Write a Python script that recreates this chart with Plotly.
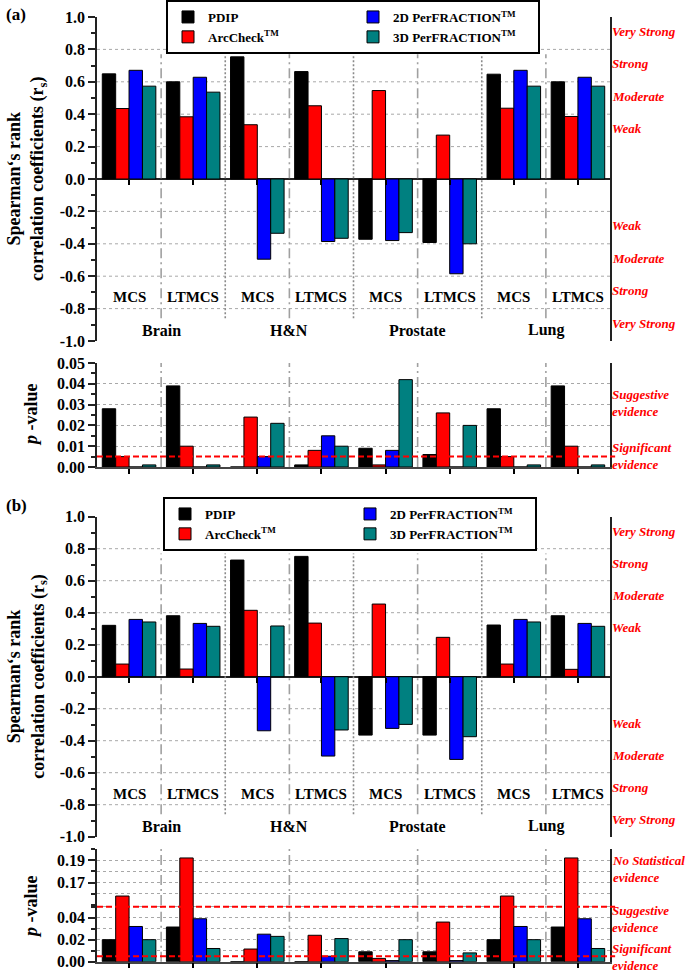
import plotly.graph_objects as go

SERIF = "Liberation Serif"
W, H = 685, 972

sites = ["Brain", "H&N", "Prostate", "Lung"]
plans = ["MCS", "LTMCS"]
group_labels = [p for s in sites for p in plans]
pos = list(range(len(group_labels)))

systems = ["PDIP", "ArcCheck<sup>TM</sup>", "2D PerFRACTION<sup>TM</sup>", "3D PerFRACTION<sup>TM</sup>"]
colors = ["#000000", "#ff0000", "#0000ff", "#008080"]
legend_rank = [1, 3, 2, 4]

# (a) Spearman's rank correlation, groups: Brain MCS, Brain LTMCS, H&N MCS, ...
rs_a_pdip = [0.649, 0.600, 0.754, 0.663, -0.372, -0.392, 0.647, 0.600]
rs_a_arc = [0.435, 0.384, 0.335, 0.452, 0.546, 0.271, 0.437, 0.386]
rs_a_2d = [0.671, 0.628, -0.495, -0.386, -0.380, -0.585, 0.671, 0.628]
rs_a_3d = [0.573, 0.536, -0.335, -0.366, -0.331, -0.400, 0.573, 0.573]

# (a) p-values
p_a_pdip = [0.028, 0.039, 0.0, 0.001, 0.009, 0.006, 0.028, 0.039]
p_a_arc = [0.005, 0.010, 0.024, 0.008, 0.001, 0.026, 0.005, 0.010]
p_a_2d = [0.0, 0.0, 0.005, 0.015, 0.008, 0.0, 0.0, 0.0]
p_a_3d = [0.001, 0.001, 0.021, 0.010, 0.042, 0.020, 0.001, 0.001]

# (b) Spearman's rank correlation
rs_b_pdip = [0.321, 0.381, 0.729, 0.752, -0.365, -0.365, 0.323, 0.381]
rs_b_arc = [0.079, 0.048, 0.415, 0.335, 0.454, 0.246, 0.079, 0.046]
rs_b_2d = [0.358, 0.333, -0.338, -0.496, -0.323, -0.517, 0.358, 0.333]
rs_b_3d = [0.342, 0.315, 0.317, -0.333, -0.298, -0.375, 0.342, 0.315]

# (b) p-values
p_b_pdip = [0.020, 0.0315, 0.0, 0.0, 0.009, 0.009, 0.020, 0.0315]
p_b_arc = [0.158, 0.192, 0.0115, 0.024, 0.003, 0.036, 0.158, 0.192]
p_b_2d = [0.032, 0.039, 0.025, 0.005, 0.001, 0.001, 0.032, 0.039]
p_b_3d = [0.020, 0.012, 0.023, 0.021, 0.020, 0.008, 0.020, 0.012]

strength = ["Weak", "Moderate", "Strong", "Very Strong"]
strength_at = [0.3, 0.5, 0.7, 0.9]

corr_ticks = [-1.0, -0.8, -0.6, -0.4, -0.2, 0.0, 0.2, 0.4, 0.6, 0.8, 1.0]
corr_grid = [-0.8, -0.6, -0.4, -0.2, 0.2, 0.4, 0.6, 0.8]
p_a_ticks = [0.0, 0.01, 0.02, 0.03, 0.04, 0.05]
p_b_low_ticks = [0.0, 0.02, 0.04]
p_b_high_ticks = [0.17, 0.19]
sig_level = 0.005
sugg_level = 0.05


def py(px):
    return 1 - px / H


dom_a = [py(341), py(17)]
dom_ap = [py(467), py(363)]
dom_b = [py(836.7), py(516.7)]
dom_bhi = [py(905), py(849)]
dom_blo = [py(961.7), py(905)]

fig = go.Figure()


def add_bars(series, xa, ya, legend=None):
    for name, vals, col, rank in zip(systems, series, colors, legend_rank):
        fig.add_trace(go.Bar(
            x=pos, y=vals, name=name, xaxis=xa, yaxis=ya,
            marker=dict(color=col, line=dict(color="black", width=1)),
            showlegend=legend is not None, legend=legend or "legend",
            legendrank=rank,
        ))


add_bars([rs_a_pdip, rs_a_arc, rs_a_2d, rs_a_3d], "x", "y", "legend")
add_bars([p_a_pdip, p_a_arc, p_a_2d, p_a_3d], "x2", "y2")
add_bars([rs_b_pdip, rs_b_arc, rs_b_2d, rs_b_3d], "x3", "y3", "legend2")
add_bars([p_b_pdip, p_b_arc, p_b_2d, p_b_3d], "x4", "y4")
add_bars([p_b_pdip, p_b_arc, p_b_2d, p_b_3d], "x5", "y5")

tickfont = dict(family=SERIF, size=16, color="black", weight="bold")
grid = dict(showgrid=True, gridcolor="#a8a8a8", griddash="dot", gridwidth=1)


def xax(**kw):
    d = dict(range=[-0.5, len(pos) - 0.5], showgrid=False, zeroline=False,
             showticklabels=False, tickvals=pos, ticks="outside", ticklen=5,
             tickcolor="black", tickwidth=1.5, fixedrange=True, automargin=False)
    d.update(kw)
    return d


def yax(**kw):
    d = dict(showline=True, mirror=True, linecolor="#222", linewidth=1.5,
             ticks="outside", ticklen=7, tickwidth=1.5, tickcolor="#222",
             tickfont=tickfont, zeroline=False, automargin=False, **grid)
    d.update(kw)
    return d


corr_y = dict(range=[-1, 1], tickvals=corr_ticks, showgrid=False,
              ticktext=[f"{v:.1f}" for v in corr_ticks],
              minor=dict(dtick=0.1, ticks="outside", ticklen=4, tickcolor="#222", showgrid=False),
              zeroline=True, zerolinecolor="#222", zerolinewidth=1.5)

fig.update_layout(
    template="none",
    xaxis=xax(anchor="free", position=sum(dom_a) / 2),
    yaxis=yax(domain=dom_a, anchor="x", **corr_y),
    xaxis2=xax(anchor="y2", showline=True, linecolor="#444", linewidth=1.5),
    yaxis2=yax(domain=dom_ap, anchor="x2", range=[0, 0.05], tickvals=p_a_ticks,
               ticktext=[f"{v:.2f}" for v in p_a_ticks],
               minor=dict(dtick=0.005, ticks="outside", ticklen=4, tickcolor="#222", showgrid=False)),
    xaxis3=xax(anchor="free", position=sum(dom_b) / 2),
    yaxis3=yax(domain=dom_b, anchor="x3", **corr_y),
    xaxis4=xax(anchor="y4", showline=True, linecolor="#444", linewidth=1.5),
    yaxis4=yax(domain=dom_blo, anchor="x4", range=[0, 0.0515], tickvals=p_b_low_ticks,
               ticktext=[f"{v:.2f}" for v in p_b_low_ticks],
               minor=dict(dtick=0.01, ticks="outside", ticklen=4, tickcolor="#222",
                          showgrid=True, gridcolor="#a8a8a8", griddash="dot")),
    xaxis5=xax(anchor="y5", ticks=""),
    yaxis5=yax(domain=dom_bhi, anchor="x5", range=[0.15, 0.2], tickvals=p_b_high_ticks,
               ticktext=[f"{v:.2f}" for v in p_b_high_ticks],
               minor=dict(dtick=0.01, ticks="outside", ticklen=4, tickcolor="#222",
                          showgrid=True, gridcolor="#a8a8a8", griddash="dot")),
    barmode="group", bargap=0.165, bargroupgap=0,
    width=W, height=H,
    margin=dict(l=97, r=75, t=0, b=0, pad=0),
    paper_bgcolor="white", plot_bgcolor="white",
    font=dict(family=SERIF, color="black"),
)

leg = dict(orientation="h", xanchor="left", yanchor="top", entrywidth=140,
           bordercolor="black", borderwidth=2, bgcolor="white", itemwidth=30,
           font=dict(family=SERIF, size=13, color="black", weight="bold"))
fig.update_layout(legend=dict(x=(166 - 97) / 513, y=py(0), **leg),
                  legend2=dict(x=(163 - 97) / 513, y=py(497), **leg))

# dotted horizontal grid in the correlation panels
for yr in ("y", "y3"):
    for g in corr_grid:
        fig.add_shape(type="line", xref=yr.replace("y", "x") + " domain", yref=yr, x0=0, x1=1, y0=g, y1=g,
                      line=dict(color="#a8a8a8", width=1, dash="dot"), layer="below")

# separators between plans (dash-dot) and between sites (dotted)
dashdot = dict(color="#a0a0a0", width=1.6, dash="10px,4px,2px,4px")
dotted = dict(color="#8a8a8a", width=1.6, dash="2px,2px")
for k in range(len(pos) - 1):
    xb = k + 0.5
    style = dashdot if k % 2 == 0 else dotted
    for xr, yr in [("x", "y"), ("x3", "y3")]:
        fig.add_shape(type="line", xref=xr, yref=yr, x0=xb, x1=xb, y0=-0.86, y1=0.77, line=style, layer="above")
    if k % 2 == 0:
        for xr, yr in [("x2", "y2 domain"), ("x4", "y4 domain"), ("x5", "y5 domain")]:
            fig.add_shape(type="line", xref=xr, yref=yr, x0=xb, x1=xb, y0=0, y1=1, line=dashdot, layer="above")

red_dash = dict(color="#ff0000", width=2, dash="6px,3px")
fig.add_shape(type="line", xref="x2 domain", yref="y2", x0=0, x1=1.01, y0=sig_level, y1=sig_level, line=red_dash)
fig.add_shape(type="line", xref="x4 domain", yref="y4", x0=0, x1=1.01, y0=sig_level, y1=sig_level, line=red_dash)
fig.add_shape(type="line", xref="x4 domain", yref="y4", x0=0, x1=1.01, y0=sugg_level, y1=sugg_level, line=red_dash)

ann_font = dict(family=SERIF, size=15, color="black", weight="bold")
red_font = dict(family=SERIF, size=13, color="#ff0000", weight="bold", style="italic")
anns = []
for xr, yr in [("x", "y"), ("x3", "y3")]:
    for i, lab in enumerate(group_labels):
        anns.append(dict(x=pos[i], y=-0.73, xref=xr, yref=yr, text=lab, showarrow=False, font=ann_font))
    for j, s in enumerate(sites):
        anns.append(dict(x=2 * j + 0.5, y=-0.935, xref=xr, yref=yr, text=s, showarrow=False,
                         font=dict(ann_font, size=16)))
    for lab, v in zip(strength, strength_at):
        for sgn in (1, -1):
            anns.append(dict(x=1.0, y=sgn * v + 0.01, xref="paper", yref=yr, text=lab, showarrow=False,
                             xanchor="left", font=red_font))
    anns.append(dict(x=(27 - 97) / 513, y=0.5, xref="paper", yref=yr + " domain",
                     text="Spearman‘s rank<br>correlation coefficients (r<sub>s</sub>)",
                     textangle=-90, showarrow=False, xanchor="center", yanchor="middle",
                     font=dict(ann_font, size=18)))

red_labels = [
    dict(y=0.031, yref="y2", text="Suggestive<br>evidence"),
    dict(y=0.0055, yref="y2", text="Significant<br>evidence"),
    dict(y=0.182, yref="y5", text="No Statistical<br>evidence"),
    dict(y=0.0387, yref="y4", text="Suggestive<br>evidence"),
    dict(y=0.0047, yref="y4", text="Significant<br>evidence"),
]
for a in red_labels:
    a.update(x=1.0, xref="paper", align="left", showarrow=False, xanchor="left", font=red_font)
anns += red_labels

anns += [
    dict(x=(31 - 97) / 513, y=0.5, xref="paper", yref="y2 domain", text="<i>p</i> -value", textangle=-90,
         showarrow=False, xanchor="center", yanchor="middle", font=dict(ann_font, size=18)),
    dict(x=(31 - 97) / 513, y=py(907), xref="paper", yref="paper", text="<i>p</i> -value", textangle=-90,
         showarrow=False, xanchor="center", yanchor="middle", font=dict(ann_font, size=18)),
    dict(x=(4 - 97) / 513, y=py(15), xref="paper", yref="paper", text="(a)", xanchor="left",
         yanchor="middle", showarrow=False, font=dict(ann_font, size=17)),
    dict(x=(4 - 97) / 513, y=py(505), xref="paper", yref="paper", text="(b)", xanchor="left",
         yanchor="middle", showarrow=False, font=dict(ann_font, size=17)),
]
fig.update_layout(annotations=anns)

# the page's default body margin would push the figure off the window
fig.write_html("out.html", config={"displayModeBar": False},
               post_script="document.body.style.margin='0';")
